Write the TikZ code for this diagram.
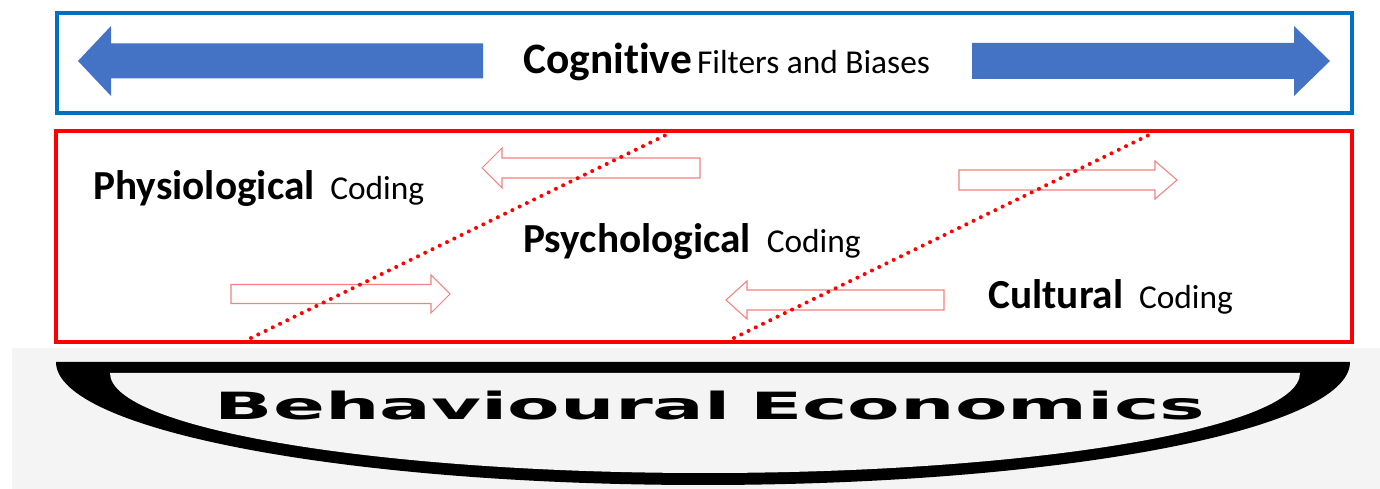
\documentclass[tikz,border=0pt]{standalone}
\usepackage{fontspec}
\usepackage{graphicx}
\setmainfont{Carlito}[Ligatures=NoCommon]
\newfontfamily\widefont{DejaVu Sans}

\definecolor{boxblue}{RGB}{0,112,192}
\definecolor{arrowblue}{RGB}{68,114,196}
\definecolor{softred}{RGB}{244,128,128}
\definecolor{bowlgray}{RGB}{244,244,244}

% shaft start x, head base x, tip x, centre y, shaft half, head half
\newcommand{\blockarrow}[7][]{%
  \draw[#1] (#2,{#5-#6}) -- (#3,{#5-#6}) -- (#3,{#5-#7}) -- (#4,#5)
    -- (#3,{#5+#7}) -- (#3,{#5+#6}) -- (#2,{#5+#6}) -- cycle;}

\newcommand{\codelabel}[2]{%
  {\fontsize{23.5}{28}\selectfont\bfseries #1}\hspace{9pt}{\fontsize{19}{23}\selectfont #2}}

\tikzset{
  solidarrow/.style={fill=arrowblue, draw=none},
  hollowarrow/.style={draw=softred, line width=0.6pt},
  dotline/.style={red, line width=2.3pt, line cap=round, dash pattern=on 0pt off 4.6pt},
}

\begin{document}
\begin{tikzpicture}[x=0.02cm, y=-0.02cm, inner sep=0pt]
  \useasboundingbox (0,0) rectangle (1380,489);

  % cognitive band
  \draw[boxblue, line width=2pt] (57,13) rectangle (1352,113);
  \blockarrow[solidarrow]{483}{111}{78}{61}{17.5}{35}
  \blockarrow[solidarrow]{972}{1294}{1330}{61}{18}{35}
  \node[anchor=base west] (cog) at (523,74)
    {{\fontsize{24.7}{29}\selectfont\bfseries Cognitive}\hspace{3pt}{\fontsize{19}{23}\selectfont Filters and Biases}};

  % coding band
  \draw[red, line width=2pt] (56,131) rectangle (1352,342);
  \blockarrow[hollowarrow]{700}{502}{482}{168}{10}{20}
  \blockarrow[hollowarrow]{959}{1155}{1177}{180}{10}{19}
  \blockarrow[hollowarrow]{231}{431}{450}{294}{9.5}{19}
  \blockarrow[hollowarrow]{944}{747}{726}{300}{10}{19}

  \coordinate (d1a) at (251,338);
  \coordinate (d1b) at (670,133);
  \coordinate (d2a) at (734,338);
  \coordinate (d2b) at (1153,133);
  \draw[dotline] (d1a) -- (d1b);
  \draw[dotline] (d2a) -- (d2b);

  \node[anchor=base west] (physio) at (93,200) {\codelabel{Physiological}{Coding}};
  \node[anchor=base west] (psycho) at (523,253) {\codelabel{Psychological}{Coding}};
  \node[anchor=base west] (cult) at (988,309) {\codelabel{Cultural}{Coding}};

  % base
  \fill[bowlgray] (12,348) rectangle (1380,489);
  \fill[black] (56,362) -- (1350,362) arc[start angle=0, end angle=180, x radius=647, y radius=123] -- cycle;
  \fill[bowlgray] (110,373) -- (1300,373) arc[start angle=0, end angle=180, x radius=595, y radius=100] -- cycle;
  \node[anchor=base] (beco) at (710,420)
    {\resizebox{19.8cm}{0.57cm}{\widefont\bfseries Behavioural\hspace{0.25em}Economics}};
\end{tikzpicture}
\end{document}
